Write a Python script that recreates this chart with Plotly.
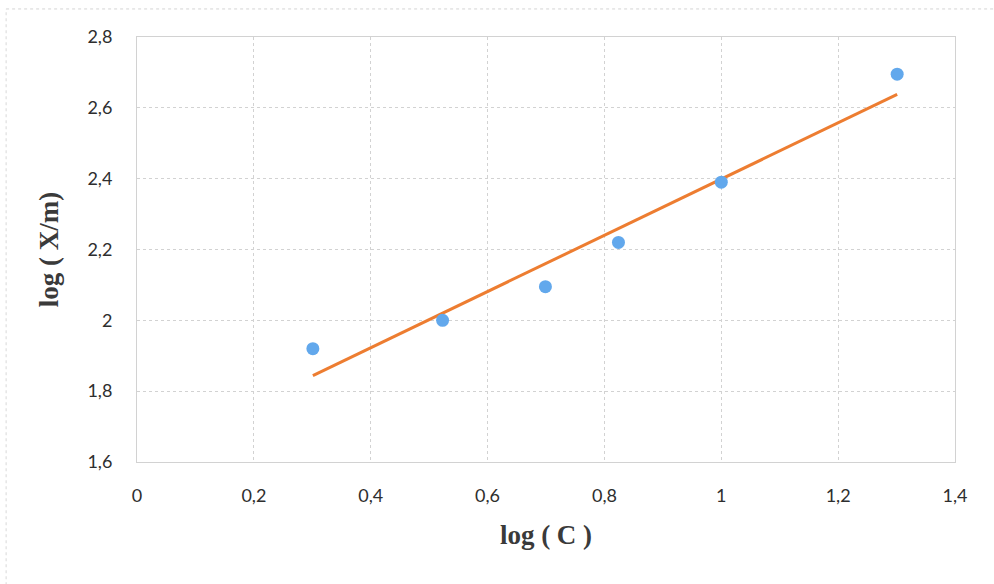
import numpy as np
import plotly.graph_objects as go

# Freundlich isotherm data: log of concentration vs log of adsorbed amount
log_c = [0.301, 0.523, 0.699, 0.824, 1.0, 1.301]
log_xm = [1.92, 2.0, 2.095, 2.22, 2.39, 2.695]

x_ticks = [0, 0.2, 0.4, 0.6, 0.8, 1.0, 1.2, 1.4]
y_ticks = [1.6, 1.8, 2.0, 2.2, 2.4, 2.6, 2.8]

# Least-squares linear trend line over the data range
slope, intercept = np.polyfit(log_c, log_xm, 1)
fit_x = [min(log_c), max(log_c)]
fit_y = [slope * v + intercept for v in fit_x]

fig = go.Figure()
fig.add_trace(go.Scatter(
    x=fit_x, y=fit_y, mode="lines",
    line=dict(color="#ED7D31", width=3),
    showlegend=False, hoverinfo="skip",
))
fig.add_trace(go.Scatter(
    x=log_c, y=log_xm, mode="markers",
    marker=dict(color="#62A8EC", size=13, line=dict(width=0)),
    showlegend=False,
))

grid = "#d2d2d2"
tick_font = dict(family="Lato, Open Sans, sans-serif", size=18, color="#2e2e2e")
title_font = dict(family="Liberation Serif, Times New Roman, serif", size=27, color="#3a3a3a")

fig.update_layout(
    width=994, height=584,
    margin=dict(l=137, r=39, t=37, b=122),
    paper_bgcolor="white", plot_bgcolor="white",
    separators=", ",
    xaxis=dict(
        range=[0, 1.4], tickvals=x_ticks,
        showgrid=True, gridcolor=grid, griddash="dot", gridwidth=1,
        showline=True, linecolor=grid, mirror=True,
        zeroline=False, ticks="", ticklabelstandoff=17,
        tickfont=tick_font,
        title=dict(text="<b>log ( C )</b>", font=title_font, standoff=20),
    ),
    yaxis=dict(
        range=[1.6, 2.8], tickvals=y_ticks,
        showgrid=True, gridcolor=grid, griddash="dot", gridwidth=1,
        showline=True, linecolor=grid, mirror=True,
        zeroline=False, ticks="", ticklabelstandoff=20,
        tickfont=tick_font,
        title=dict(text="<b>log ( X/m)</b>", font=title_font, standoff=20),
    ),
    shapes=[
        dict(type="line", xref="paper", yref="paper", x0=-0.160, x1=1.06, y0=1.066, y1=1.066,
             line=dict(color="#d4d4d4", width=1, dash="dot")),
        dict(type="line", xref="paper", yref="paper", x0=-0.160, x1=-0.160, y0=-0.29, y1=1.066,
             line=dict(color="#d8d8d8", width=1, dash="dot")),
    ],
)

fig.write_html("out.html")
